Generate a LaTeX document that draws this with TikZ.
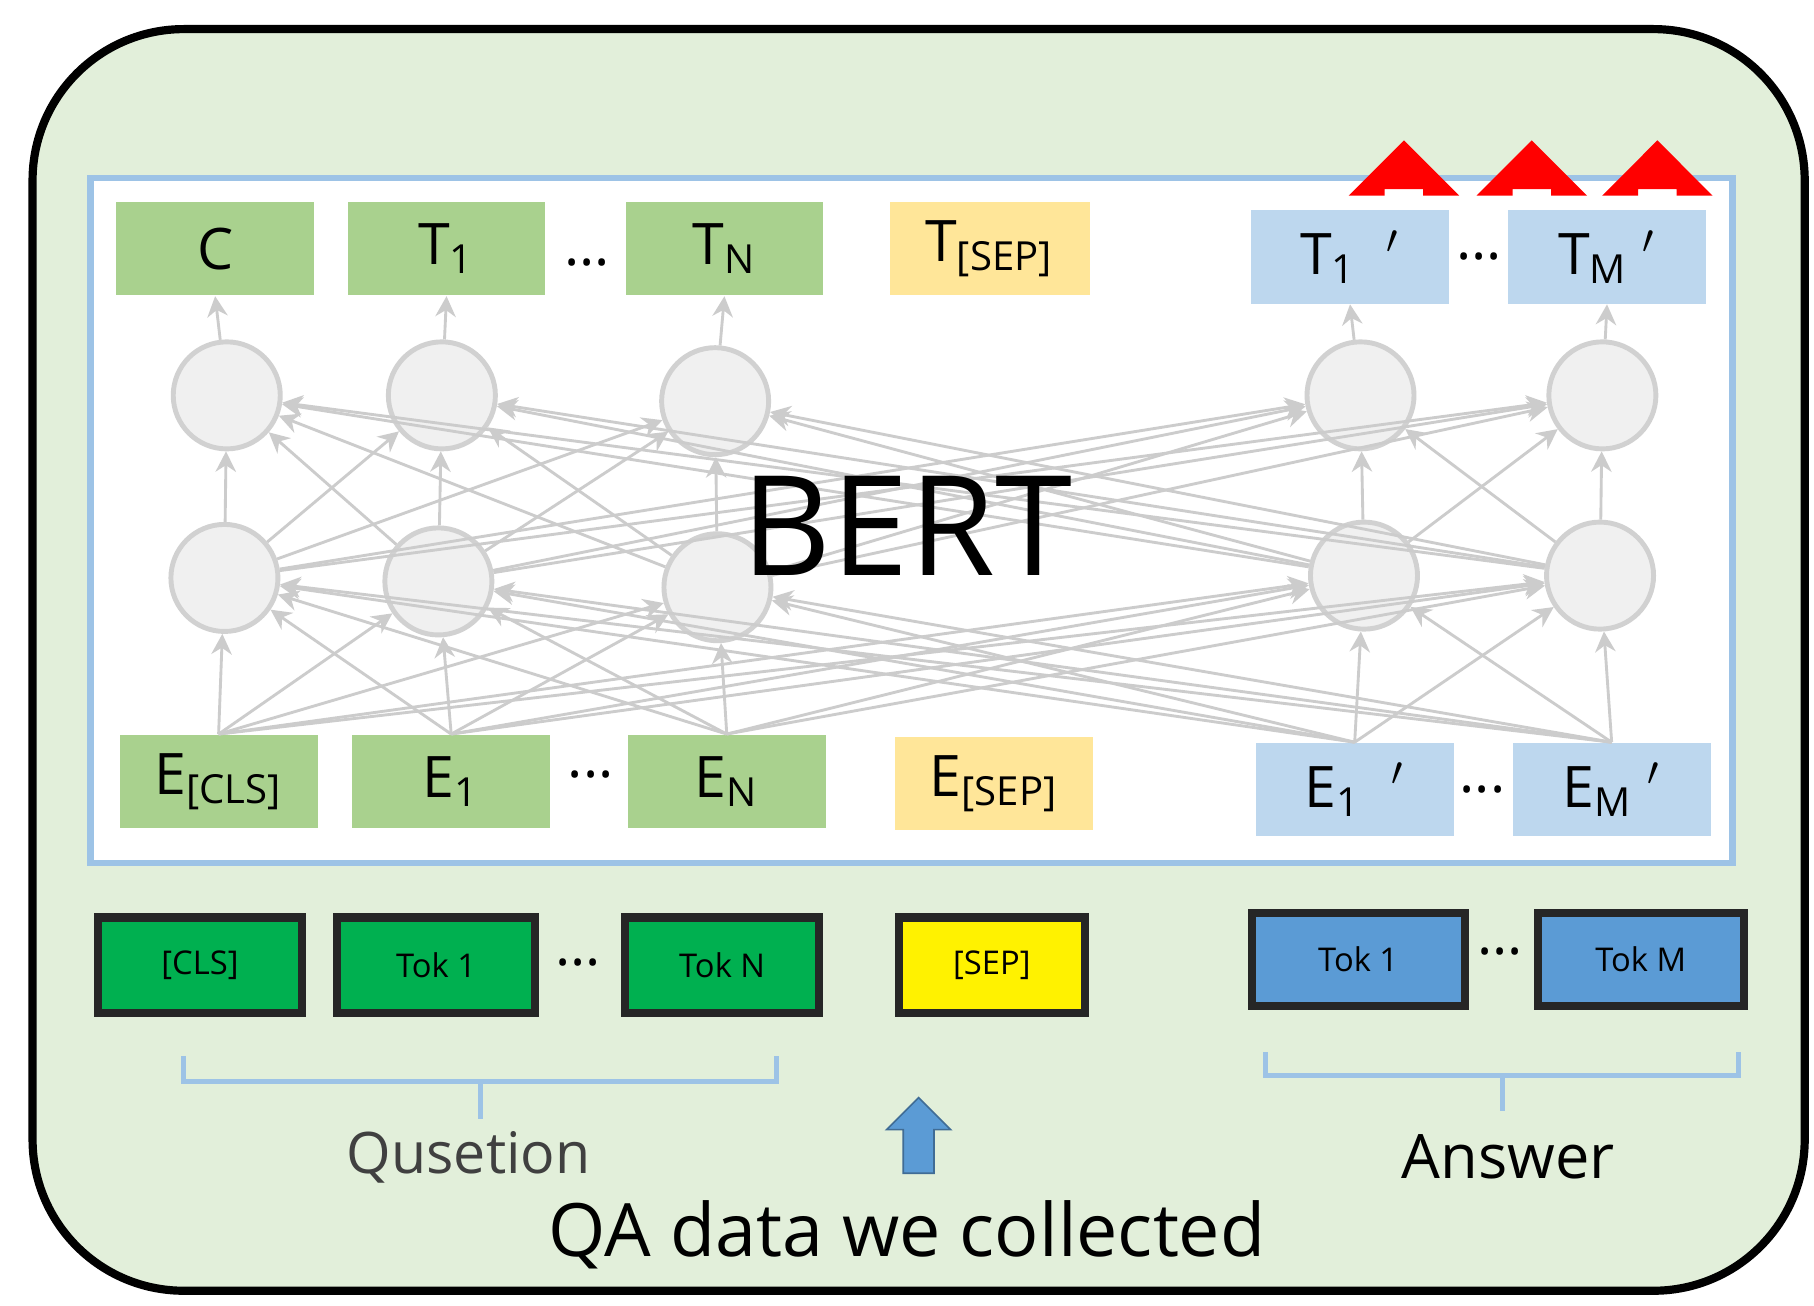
\documentclass[tikz,border=0pt]{standalone}
\usepackage{fontspec}
\setmainfont{Open Sans}
\usetikzlibrary{arrows.meta,shapes.arrows}
\definecolor{bgg}{HTML}{E2EFDA}
\definecolor{gbox}{HTML}{A9D18E}
\definecolor{ybox}{HTML}{FFE699}
\definecolor{bbox}{HTML}{BDD7EE}
\definecolor{tg}{HTML}{00B050}
\definecolor{tb}{HTML}{5B9BD5}
\definecolor{lbl}{HTML}{9DC3E6}
\begin{document}
\begin{tikzpicture}[x=0.01cm,y=-0.01cm,
 lay/.style={minimum width=1.7cm,minimum height=0.8cm,inner sep=0,font=\fontsize{14}{16}\selectfont},
 tok/.style={draw=black!85,line width=2pt,minimum width=1.7cm,minimum height=0.82cm,inner sep=0,font=\fontsize{8}{10}\selectfont},
 neu/.style={circle,draw=black!18,line width=1.2pt,fill=black!6,minimum size=0.92cm,inner sep=0},
 arr/.style={black!20,line width=0.7pt,-{Stealth[length=5pt,width=5pt]}},
 dots/.style={font=\fontsize{14}{16}\selectfont},
 brace/.style={lbl,line width=1.2pt},
 red arrow/.style={single arrow,shape border rotate=90,fill=red,minimum width=0.95cm,single arrow head extend=0.2cm,minimum height=0.42cm,inner sep=0.1cm,anchor=west}]
\useasboundingbox (0,0) rectangle (1560,1123);
\draw[line width=2pt,fill=bgg,rounded corners=1.3cm] (28,25) rectangle (1552,1110);
\draw[lbl,line width=1.6pt,fill=white] (78,153) rectangle (1490,742);
% top
\node[lay,fill=gbox] (C) at (185,214) {C};
\node[lay,fill=gbox] (T1) at (384,214) {T\textsubscript{1}};
\node[dots] (d1) at (505,226) {...};
\node[lay,fill=gbox] (TN) at (623,214) {T\textsubscript{N}};
\node[lay,fill=ybox,minimum width=1.72cm] (TS) at (851,214) {T\textsubscript{[SEP]}};
\node[lay,fill=bbox] (T1p) at (1161,221) {T\textsubscript{1} \ $'$};
\node[dots] (d2) at (1272,221) {...};
\node[lay,fill=bbox] (TMp) at (1382,221) {T\textsubscript{M} $'$};
% bottom E
\node[lay,fill=gbox] (EC) at (188,672) {E\textsubscript{[CLS]}};
\node[lay,fill=gbox] (E1) at (388,672) {E\textsubscript{1}};
\node[dots] (d3) at (508,666) {...};
\node[lay,fill=gbox] (EN) at (625,672) {E\textsubscript{N}};
\node[lay,fill=ybox] (ES) at (855,674) {E\textsubscript{[SEP]}};
\node[lay,fill=bbox] (E1p) at (1165,679) {E\textsubscript{1} \ $'$};
\node[dots] (d4) at (1275,679) {...};
\node[lay,fill=bbox] (EMp) at (1386,679) {E\textsubscript{M} $'$};
% neurons
\node[neu] (a1) at (195,340) {};
\node[neu] (a2) at (380,340) {};
\node[neu] (a3) at (615,345) {};
\node[neu] (a4) at (1170,340) {};
\node[neu] (a5) at (1378,340) {};
\node[neu] (b1) at (193,497) {};
\node[neu] (b2) at (377,500) {};
\node[neu] (b3) at (617,505) {};
\node[neu] (b4) at (1173,495) {};
\node[neu] (b5) at (1376,495) {};
\foreach \e in {EC,E1,EN,E1p,EMp}{\foreach \b in {b1,b2,b3,b4,b5}{\draw[arr] (\e.north) -- (\b);}}
\foreach \b in {b1,b2,b3,b4,b5}{\foreach \a in {a1,a2,a3,a4,a5}{\draw[arr] (\b) -- (\a);}}
\foreach \a/\t in {a1/C,a2/T1,a3/TN,a4/T1p,a5/TMp}{\draw[arr] (\a) -- (\t.south);}
\node[font=\fontsize{34}{38}\selectfont] (bert) at (780,452) {BERT};
% tokens
\node[tok,fill=tg,minimum width=1.75cm] (k1) at (172,830) {[CLS]};
\node[tok,fill=tg] (k2) at (375,830) {Tok 1};
\node[dots] (d5) at (497,828) {...};
\node[tok,fill=tg,minimum width=1.67cm] (k3) at (621,830) {Tok N};
\node[tok,fill=yellow,minimum width=1.6cm] (k4) at (853,830) {[SEP]};
\node[tok,fill=tb,minimum width=1.83cm,minimum height=0.8cm] (k5) at (1168,825) {Tok 1};
\node[dots] (d6) at (1290,818) {...};
\node[tok,fill=tb,minimum width=1.77cm,minimum height=0.8cm] (k6) at (1411,825) {Tok M};
% braces
\draw[brace] (158,908) -- (158,930) -- (668,930) -- (668,908);
\draw[brace] (413,930) -- (413,962);
\draw[brace] (1088,905) -- (1088,925) -- (1495,925) -- (1495,905);
\draw[brace] (1292,925) -- (1292,955);
\node[font=\fontsize{14}{17}\selectfont,text=black!75] (q) at (403,995) {Qusetion};
\node[font=\fontsize{15}{18}\selectfont] (ans) at (1297,995) {Answer};
\node[single arrow,shape border rotate=90,fill=tb,draw=tb!70!black,minimum width=0.55cm,single arrow head extend=0.04cm,minimum height=0.65cm,inner sep=0.03cm] (up) at (790,983) {};
\node[font=\fontsize{18}{22}\selectfont] (qa) at (780,1062) {QA data we collected};
% red arrows
\foreach \x/\n in {1177/r1,1287/r2,1395/r3}{
\node[red arrow] (\n) at (\x,150) {};}
\end{tikzpicture}
\end{document}
